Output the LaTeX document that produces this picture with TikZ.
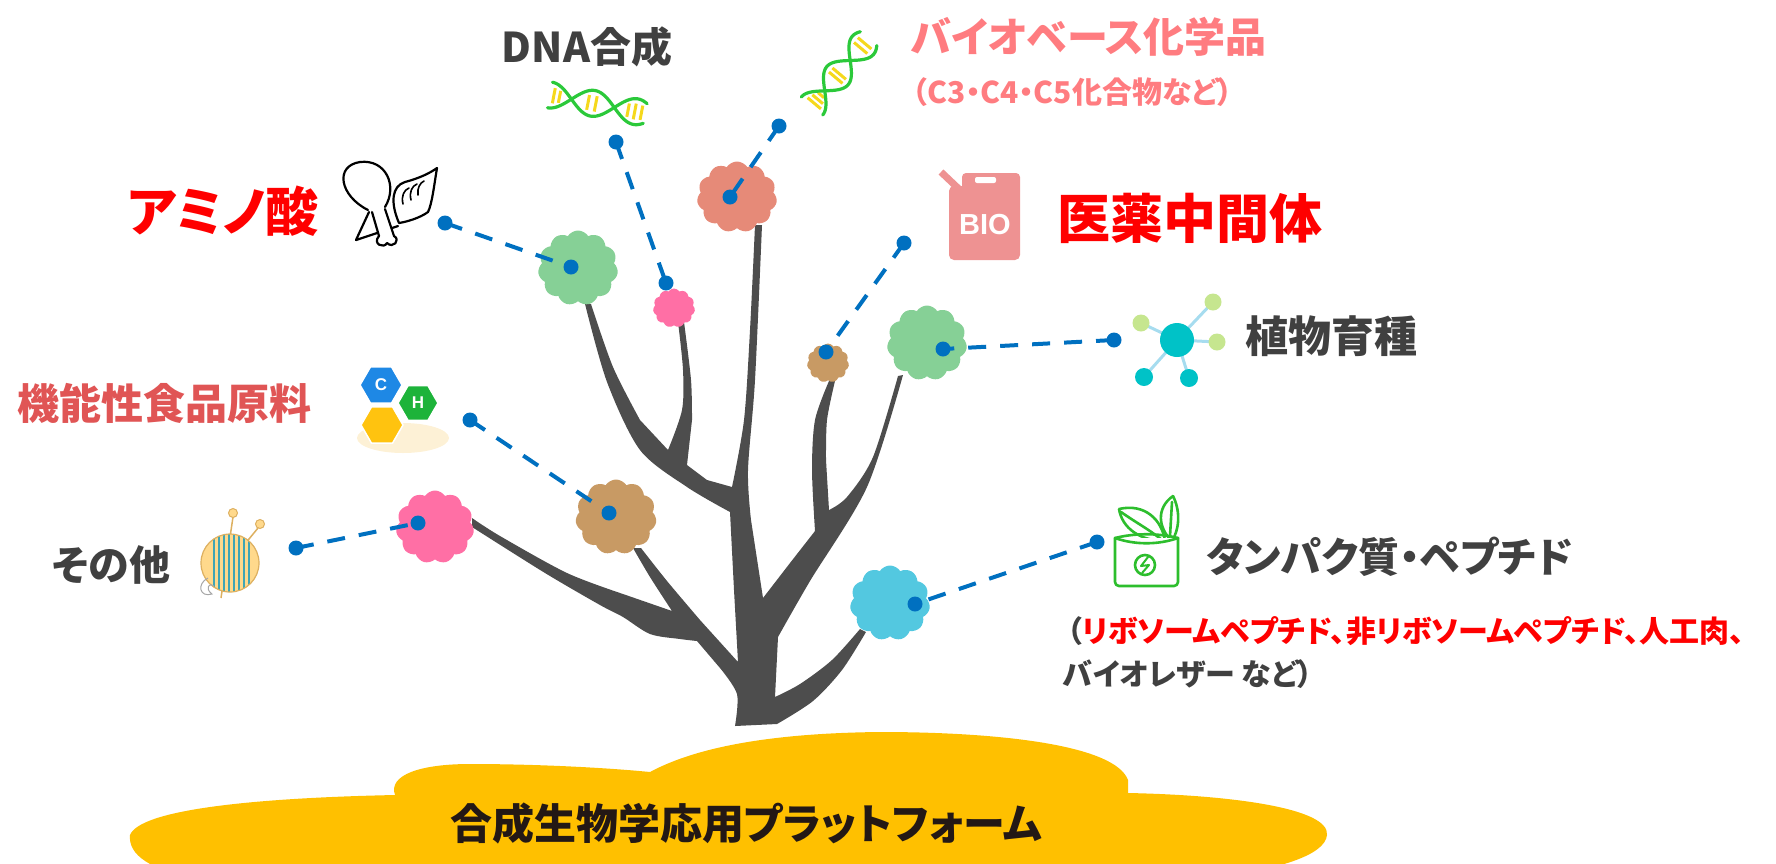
\documentclass[tikz,border=0pt]{standalone}
\usepackage{fontspec}
\newfontfamily\jp{Noto Sans CJK JP}[RawFeature=+palt]
\newfontfamily\lat{Liberation Sans}
\usetikzlibrary{shapes.symbols,shapes.geometric}
\newcommand\fsz[1]{\fontsize{#1}{#1}\selectfont}
\definecolor{cTree}{HTML}{4D4D4D}
\definecolor{cBlue}{HTML}{0070C0}
\definecolor{cGray}{HTML}{404040}
\definecolor{cSalmon}{HTML}{FF7C80}
\definecolor{cRed}{HTML}{FF0000}
\definecolor{cRose}{HTML}{E05555}
\definecolor{cInk}{HTML}{231815}
\definecolor{cGold}{HTML}{FFC000}
\definecolor{fOrange}{HTML}{E68A78}
\definecolor{fGreen}{HTML}{86D096}
\definecolor{fPink}{HTML}{FF6FA5}
\definecolor{fBrown}{HTML}{C89A64}
\definecolor{fBlue}{HTML}{53C8E0}
\definecolor{dnaG}{HTML}{2BC93A}
\definecolor{dnaY}{HTML}{F5D81C}
\definecolor{bioC}{HTML}{EE9292}
\definecolor{netE}{HTML}{A6DCEF}
\definecolor{netT}{HTML}{00C2C7}
\definecolor{netL}{HTML}{C6E68F}
\definecolor{hexB}{HTML}{1E88E5}
\definecolor{hexG}{HTML}{1DB33A}
\definecolor{hexY}{HTML}{FFC30F}
\definecolor{hexBg}{HTML}{FDF1D6}
\definecolor{yarnF}{HTML}{FFD98C}
\definecolor{yarnE}{HTML}{DDB060}
\definecolor{yarnS}{HTML}{3FA5B5}
\definecolor{canG}{HTML}{2DBE2D}
\begin{document}
\begin{tikzpicture}[x=1pt,y=-1pt,
  flower/.style={cloud, cloud puffs=11, cloud puff arc=115, inner sep=0pt, draw=none},
  conn/.style={draw=cBlue, line width=4pt, dash pattern=on 18pt off 14pt},
  dot/.style={fill=cBlue},
  lab/.style={inner sep=0pt, anchor=west},
  hexa/.style={regular polygon, regular polygon sides=6, minimum size=42pt, inner sep=0pt, draw=white, line width=1.5pt},
  helix/.style={draw=dnaG, line width=3.2pt, line cap=round},
  rung/.style={draw=dnaY, line width=3pt},
  outl/.style={draw=black, line width=2.2pt, line cap=round, line join=round},
  canl/.style={draw=canG, line width=2.6pt, line cap=round, line join=round}]
\useasboundingbox (0,0) rectangle (1776,863);
\clip (0,0) rectangle (1776,863);

% ground platform
\fill[cGold] (130,835)
  .. controls (140,810) and (250,798) .. (395,795)
  .. controls (388,775) and (420,764) .. (470,764)
  .. controls (540,764) and (610,768) .. (650,772)
  .. controls (700,745) and (780,733) .. (880,732)
  .. controls (1000,732) and (1115,745) .. (1128,780)
  -- (1128,793)
  .. controls (1230,795) and (1330,808) .. (1327,835)
  .. controls (1325,855) and (1280,870) .. (1200,880)
  -- (200,880)
  .. controls (150,870) and (128,855) .. (130,835) -- cycle;
\node[inner sep=0pt, text=cInk, font={\jp\bfseries\fsz{42}}] (platform) at (746,823) {合成生物学応用プラットフォーム};

% tree
\fill[cTree] (735,726)
  -- plot[smooth] coordinates {(777,724) (813,701) (842,670) (866,632)}
  -- plot[smooth] coordinates {(860,629) (832,660) (800,684) (775,697)}
  -- plot[smooth] coordinates {(778,637) (810,581) (867,487) (903,375)}
  -- plot[smooth] coordinates {(898,376) (873,457) (847,497) (829,510)}
  -- plot[smooth] coordinates {(826,460) (827,420) (835,381)}
  -- plot[smooth] coordinates {(829,381) (815,420) (812,470) (815,531)}
  -- plot[smooth] coordinates {(790,563) (763,598)}
  -- plot[smooth] coordinates {(751,520) (748,470) (755,380) (762,225)}
  -- plot[smooth] coordinates {(755,225) (750,330) (744,420) (732,487)}
  -- plot[smooth] coordinates {(707,480) (687,465)}
  -- plot[smooth] coordinates {(692,420) (691,380) (684,322)}
  -- plot[smooth] coordinates {(678,322) (683,370) (682,410) (668,450)}
  -- plot[smooth] coordinates {(640,420) (613,367) (591,304)}
  -- plot[smooth] coordinates {(585,304) (607,382) (640,450) (687,487) (730,512)}
  -- plot[smooth] coordinates {(734,590) (738,662)}
  -- plot[smooth] coordinates {(700,620) (667,581) (641,548)}
  -- plot[smooth] coordinates {(633,548) (650,577) (672,611)}
  -- plot[smooth] coordinates {(623,594) (567,573) (500,536) (472,518)}
  -- plot[smooth] coordinates {(472,527) (545,573) (600,605) (623,617) (650,634) (680,639) (697,641)}
  -- plot[smooth] coordinates {(720,668) (737,694) (735,726)}
  -- cycle;

% blossoms
\node[flower, fill=fOrange, minimum width=80pt, minimum height=71pt] (fOr) at (737,197) {};
\node[flower, fill=fGreen, minimum width=80pt, minimum height=75pt] (fGl) at (578,268) {};
\node[flower, fill=fPink, minimum width=42pt, minimum height=39pt] (fPs) at (674,308) {};
\node[flower, fill=fBrown, minimum width=42pt, minimum height=39pt] (fBs) at (828,363) {};
\node[flower, fill=fGreen, minimum width=80pt, minimum height=75pt] (fGr) at (927,343) {};
\node[flower, fill=fBrown, minimum width=81pt, minimum height=75pt] (fBl) at (616,517) {};
\node[flower, fill=fBlue, minimum width=80pt, minimum height=75pt] (fBu) at (890,603) {};
\node[flower, fill=fPink, minimum width=78pt, minimum height=73pt] (fPl) at (435,527) {};

% connector ends
\coordinate (amA) at (445,223); \coordinate (amB) at (571,267);
\coordinate (dnA) at (616,142); \coordinate (dnB) at (666,283);
\coordinate (bcA) at (779,126); \coordinate (bcB) at (730,197);
\coordinate (phA) at (904,243); \coordinate (phB) at (826,352);
\coordinate (plA) at (1114,340); \coordinate (plB) at (943,349);
\coordinate (ffA) at (470,420); \coordinate (ffB) at (609,513);
\coordinate (otA) at (296,548); \coordinate (otB) at (418,523);
\coordinate (prA) at (1097,542); \coordinate (prB) at (915,604);
\foreach \a/\b in {amA/amB, dnA/dnB, bcA/bcB, phA/phB, plA/plB, ffA/ffB, otA/otB, prA/prB}{
  \draw[conn] (\a) -- (\b);
  \fill[dot] (\a) circle[radius=7.5pt];
  \fill[dot] (\b) circle[radius=7.5pt];
}

% labels
\node[inner sep=0pt, text=cGray, font={\jp\bfseries\fsz{41}}] (tDna) at (587,47) {DNA合成};
\node[lab, text=cSalmon, font={\jp\bfseries\fsz{41}}] (tBio) at (911,37) {バイオベース化学品};
\node[lab, text=cSalmon, font={\jp\bfseries\fsz{30}}] (tBio2) at (912,92) {（C3・C4・C5化合物など）};
\node[lab, text=cRed, font={\jp\bfseries\fsz{53}}] (tAmi) at (127,211) {アミノ酸};
\node[lab, text=cRed, font={\jp\bfseries\fsz{53}}] (tPha) at (1057,218) {医薬中間体};
\node[lab, text=cGray, font={\jp\bfseries\fsz{43}}] (tPla) at (1245,336) {植物育種};
\node[lab, text=cRose, font={\jp\bfseries\fsz{42}}] (tFun) at (17,403) {機能性食品原料};
\node[lab, text=cGray, font={\jp\bfseries\fsz{41}}] (tOth) at (52,565) {その他};
\node[lab, text=cGray, font={\jp\bfseries\fsz{41}}] (tPro) at (1206,557) {タンパク質・ペプチド};
\node[lab, text=cGray, font={\jp\bfseries\fsz{30}}] (tPro2) at (1067,631) {（\textcolor{cRed}{リボソームペプチド、非リボソームペプチド、人工肉、}};
\node[lab, text=cGray, font={\jp\bfseries\fsz{30}}] (tPro3) at (1063,674) {バイオレザー など）};

% amino acid icon: drumstick and shell
\draw[outl] (368,210) .. controls (340,196) and (334,166) .. (360,162)
  .. controls (386,159) and (398,186) .. (385,207);
\draw[outl] (369,212) -- (356,240) -- (398,226);
\draw[outl, fill=white] (372,212) -- (379,236) .. controls (372,244) and (384,249) .. (387,243)
  .. controls (393,249) and (401,240) .. (394,236) -- (385,209);
\draw[outl] (399,223) .. controls (390,202) and (392,186) .. (405,182)
  .. controls (420,178) and (430,173) .. (437,168)
  .. controls (434,186) and (432,204) .. (428,212)
  .. controls (420,218) and (406,222) .. (399,223);
\draw[outl, line width=1.6pt] (403,204) .. controls (401,196) and (404,190) .. (409,188);
\draw[outl, line width=1.6pt] (411,200) .. controls (409,192) and (412,186) .. (417,184);
\draw[outl, line width=1.6pt] (418,195) .. controls (417,188) and (420,183) .. (424,181);

% DNA icon (synthesis): two strands along a tilted axis
\begin{scope}[shift={(550,95)}, rotate=-11]
  \foreach \t in {0.04,0.10,0.40,0.48,0.82,0.89,0.96}{
    \pgfmathsetmacro\rh{8*cos(400*\t)}
    \pgfmathsetmacro\rl{-1*\rh}
    \draw[rung] ({97*\t},\rh) -- ({97*\t},\rl);
  }
  \draw[helix] plot[domain=0:1, samples=50, smooth, variable=\t] ({97*\t},{13*cos(400*\t)});
  \draw[helix] plot[domain=0:1, samples=50, smooth, variable=\t] ({97*\t},{-13*cos(400*\t)});
\end{scope}

% DNA icon (bio-based chemicals)
\begin{scope}[shift={(812,106)}, rotate=50]
  \foreach \t in {0.04,0.10,0.16,0.42,0.48,0.86,0.93}{
    \pgfmathsetmacro\rh{9*cos(400*\t)}
    \pgfmathsetmacro\rl{-1*\rh}
    \draw[rung] ({88*\t},\rh) -- ({88*\t},\rl);
  }
  \draw[helix] plot[domain=0:1, samples=50, smooth, variable=\t] ({88*\t},{14*cos(400*\t)});
  \draw[helix] plot[domain=0:1, samples=50, smooth, variable=\t] ({88*\t},{-14*cos(400*\t)});
\end{scope}

% jerrycan icon
\fill[bioC, rounded corners=5pt] (949,186) rectangle (1020,260);
\fill[bioC, rounded corners=4pt] (962,173) rectangle (1020,195);
\draw[bioC, line width=7pt] (960,190) -- (941,172);
\fill[white, rounded corners=2pt] (975,177) rectangle (996,183);
\node[inner sep=0pt, text=white, font={\lat\bfseries\fsz{29}}] (bioTxt) at (985,225) {BIO};

% molecule network icon
\foreach \p in {(1213,302), (1141,323), (1217,342), (1144,377), (1189,378)}
  \draw[netE, line width=3pt] (1177,340) -- \p;
\fill[netL] (1213,302) circle[radius=8.5pt];
\fill[netL] (1141,323) circle[radius=8.5pt];
\fill[netL] (1217,342) circle[radius=8.5pt];
\fill[netT] (1144,377) circle[radius=9pt];
\fill[netT] (1189,378) circle[radius=9pt];
\fill[netT] (1177,340) circle[radius=17pt];

% C-H hexagon icon
\fill[hexBg] (403,438) ellipse[x radius=46pt, y radius=15pt];
\node[hexa, fill=hexY] (hY) at (382,425) {};
\node[hexa, fill=hexB] (hB) at (381,385) {};
\node[hexa, fill=hexG, minimum size=40pt] (hG) at (418,403) {};
\node[text=white, font={\lat\bfseries\fsz{17}}] at (hB) {C};
\node[text=white, font={\lat\bfseries\fsz{17}}] at (hG) {H};

% yarn ball icon
\draw[yarnE, line width=1.5pt] (233,517) -- (221,598);
\draw[yarnE, line width=1.5pt] (258,528) -- (240,550);
\fill[yarnF] (233,513) circle[radius=4.5pt];
\draw[yarnE, line width=1pt] (233,513) circle[radius=4.5pt];
\fill[yarnF] (260,524) circle[radius=4.5pt];
\draw[yarnE, line width=1pt] (260,524) circle[radius=4.5pt];
\fill[yarnF] (230,563) circle[radius=29pt];
\begin{scope}
  \clip (230,563) circle[radius=29pt];
  \foreach \x in {214,219,224,229,234,239,244,249}
    \draw[yarnS, line width=2.2pt] (\x,530) -- (\x,600);
\end{scope}
\draw[yarnE, line width=1.2pt] (230,563) circle[radius=29pt];
\draw[gray!70, line width=1pt] (208,578) .. controls (196,584) and (200,598) .. (212,594)
  .. controls (204,588) and (210,582) .. (214,586);

% protein can icon
\draw[canl, fill=white] (1173,496) .. controls (1181,512) and (1179,530) .. (1172,541)
  .. controls (1158,528) and (1156,508) .. (1173,496);
\draw[canl] (1172,502) -- (1170,536);
\draw[canl, fill=white] (1119,509) .. controls (1145,503) and (1162,520) .. (1165,541)
  .. controls (1140,541) and (1122,528) .. (1119,509);
\draw[canl] (1121,512) .. controls (1135,522) and (1150,530) .. (1162,540);
\draw[canl, fill=white, rounded corners=4pt] (1115,538) -- (1115,586) -- (1178,586) -- (1178,538);
\draw[canl] (1115,538) .. controls (1135,545) and (1158,545) .. (1178,538);
\draw[canl] (1115,538) .. controls (1135,533) and (1158,533) .. (1178,538);
\draw[canl] (1145,565) circle[radius=10pt];
\draw[canl, line width=2pt] (1148,557) -- (1141,566) -- (1149,565) -- (1142,573);
\end{tikzpicture}
\end{document}
